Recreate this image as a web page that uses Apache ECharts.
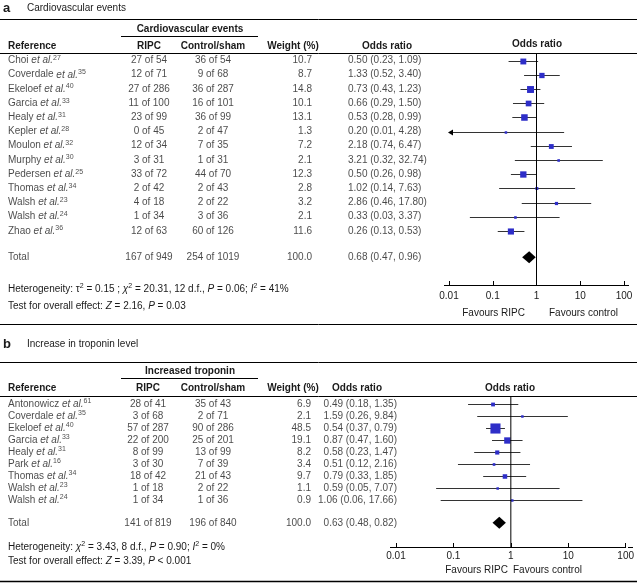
<!DOCTYPE html>
<html><head><meta charset="utf-8">
<script src="https://cdn.jsdelivr.net/npm/echarts@6/dist/echarts.min.js"></script>
<style>html,body{margin:0;padding:0;background:#fff}#c{width:637px;height:584px}</style>
</head><body><div id="c"></div>
<script>
// ---------- Panel a: Cardiovascular events ----------
const aNames = ['Choi','Coverdale','Ekeloef','Garcia','Healy','Kepler','Moulon','Murphy','Pedersen','Thomas','Walsh','Walsh','Zhao'];
const aRefs = ['27','35','40','33','31','28','32','30','25','34','23','24','36'];
const aRipcEvents = [27,12,27,11,23,0,12,3,33,2,4,1,12];
const aRipcN = [54,71,286,100,99,45,34,31,72,42,18,34,63];
const aCtrlEvents = [36,9,36,16,36,2,7,1,44,2,2,3,60];
const aCtrlN = [54,68,287,101,99,47,35,31,70,43,22,36,126];
const aWeight = [10.7,8.7,14.8,10.1,13.1,1.3,7.2,2.1,12.3,2.8,3.2,2.1,11.6];
const aOR = [0.50,1.33,0.73,0.66,0.53,0.20,2.18,3.21,0.50,1.02,2.86,0.33,0.26];
const aLow = [0.23,0.52,0.43,0.29,0.28,0.01,0.74,0.32,0.26,0.14,0.46,0.03,0.13];
const aHigh = [1.09,3.40,1.23,1.50,0.99,4.28,6.47,32.74,0.98,7.63,17.80,3.37,0.53];
const aTotalRipc = [167,949];
const aTotalCtrl = [254,1019];
const aTotalWeight = 100.0;
const aTotalOR = [0.68,0.47,0.96];

// ---------- Panel b: Increase in troponin level ----------
const bNames = ['Antonowicz','Coverdale','Ekeloef','Garcia','Healy','Park','Thomas','Walsh','Walsh'];
const bRefs = ['61','35','40','33','31','16','34','23','24'];
const bRipcEvents = [28,3,57,22,8,3,18,1,1];
const bRipcN = [41,68,287,200,99,30,42,18,34];
const bCtrlEvents = [35,2,90,25,13,7,21,2,1];
const bCtrlN = [43,71,286,201,99,39,43,22,36];
const bWeight = [6.9,2.1,48.5,19.1,8.2,3.4,9.7,1.1,0.9];
const bOR = [0.49,1.59,0.54,0.87,0.58,0.51,0.79,0.59,1.06];
const bLow = [0.18,0.26,0.37,0.47,0.23,0.12,0.33,0.05,0.06];
const bHigh = [1.35,9.84,0.79,1.60,1.47,2.16,1.85,7.07,17.66];
const bTotalRipc = [141,819];
const bTotalCtrl = [196,840];
const bTotalWeight = 100.0;
const bTotalOR = [0.63,0.48,0.82];

const axisTicks = [0.01, 0.1, 1, 10, 100];

const FONT = 'Liberation Sans, Arial, Helvetica, sans-serif';
const TXT = '#1a1a1a';
const SQ = '#2e2ec8';
const CI = '#333333';

const chart = echarts.init(document.getElementById('c'), null, {renderer:'canvas'});

const rich = {
  n: {fontSize: 10, fontFamily: FONT, color: TXT, lineHeight: 12},
  i: {fontSize: 10, fontFamily: FONT, color: TXT, fontStyle: 'italic', lineHeight: 12},
  s: {fontSize: 7, fontFamily: FONT, color: TXT, verticalAlign: 'top', lineHeight: 12, padding:[0,0,0,0]}
};

function fmtCI(o, l, h) { return o.toFixed(2) + ' (' + l.toFixed(2) + ', ' + h.toFixed(2) + ')'; }

function textSeries(xAxisIndex, yAxisIndex, items, align) {
  return {
    type: 'scatter', xAxisIndex, yAxisIndex, symbolSize: 0, silent: true,
    data: items.map(d => ({value: [d.x, d.row], label: {formatter: d.text}})),
    label: {show: true, position: 'inside', align: align, verticalAlign: 'middle', offset: [0,0],
      fontSize: 10, fontFamily: FONT, color: TXT, rich: rich},
    animation: false
  };
}

function panelSeries(P, tx, ty, fx, fy) {
  const rows = P.names.map((_, i) => i);
  const tr = P.totalRow;
  const series = [];
  series.push(textSeries(tx, ty, P.names.map((nm, i) => ({x: P.col.ref, row: i,
    text: '{n|' + nm + ' }{i|et al.}{s|' + P.refs[i] + '}'})).concat([{x: P.col.ref, row: tr, text: 'Total'}]), 'left'));
  series.push(textSeries(tx, ty, rows.map(i => ({x: P.col.ripc, row: i, text: P.ripcE[i] + ' of ' + P.ripcN[i]}))
    .concat([{x: P.col.ripc, row: tr, text: P.totRipc[0] + ' of ' + P.totRipc[1]}]), 'center'));
  series.push(textSeries(tx, ty, rows.map(i => ({x: P.col.ctrl, row: i, text: P.ctrlE[i] + ' of ' + P.ctrlN[i]}))
    .concat([{x: P.col.ctrl, row: tr, text: P.totCtrl[0] + ' of ' + P.totCtrl[1]}]), 'center'));
  series.push(textSeries(tx, ty, rows.map(i => ({x: P.col.w, row: i, text: P.w[i].toFixed(1)}))
    .concat([{x: P.col.w, row: tr, text: P.totW.toFixed(1)}]), 'right'));
  series.push(textSeries(tx, ty, rows.map(i => ({x: P.col.or, row: i, text: fmtCI(P.or[i], P.lo[i], P.hi[i])}))
    .concat([{x: P.col.or, row: tr, text: fmtCI(P.totOR[0], P.totOR[1], P.totOR[2])}]), P.col.orAlign));
  series.push({type: 'line', xAxisIndex: fx, yAxisIndex: fy, symbol: 'none', silent: true, animation: false,
    data: [[1, P.yMin], [1, P.yMax]], lineStyle: {color: '#000', width: 1}});
  series.push({
    type: 'custom', xAxisIndex: fx, yAxisIndex: fy, silent: true, animation: false, clip: false,
    encode: {x: [0,1,2], y: 3},
    data: rows.map(i => [P.or[i], P.lo[i], P.hi[i], i, P.w[i]]),
    renderItem: function (params, api) {
      const o = api.value(0), l = api.value(1), h = api.value(2), r = api.value(3), w = api.value(4);
      const pO = api.coord([o, r]), pL = api.coord([Math.max(l, 0.01), r]), pH = api.coord([h, r]);
      const y = Math.round(pO[1]) + 0.5;
      const s = Math.max(2.5, P.sizeK * Math.sqrt(w));
      const ch = [
        {type: 'line', shape: {x1: pL[0], y1: y, x2: pH[0], y2: y}, style: {stroke: CI, lineWidth: 1}},
        {type: 'rect', shape: {x: pO[0] - s/2, y: y - s/2, width: s, height: s}, style: {fill: SQ}}
      ];
      if (l <= 0.01) ch.push({type: 'polygon', shape: {points: [[pL[0]-1, y], [pL[0]+4, y-3], [pL[0]+4, y+3]]}, style: {fill: '#000'}});
      return {type: 'group', children: ch};
    }
  });
  series.push({
    type: 'custom', xAxisIndex: fx, yAxisIndex: fy, silent: true, animation: false, clip: false,
    encode: {x: [0,1,2], y: 3},
    data: [[P.totOR[0], P.totOR[1], P.totOR[2], tr]],
    renderItem: function (params, api) {
      const o = api.value(0), l = api.value(1), h = api.value(2), r = api.value(3);
      const pO = api.coord([o, r]), pL = api.coord([l, r]), pH = api.coord([h, r]);
      return {type: 'polygon', shape: {points: [[pL[0], pO[1]], [pO[0], pO[1]-6], [pH[0], pO[1]], [pO[0], pO[1]+6]]}, style: {fill: '#000'}};
    }
  });
  return series;
}

const PA = {names: aNames, refs: aRefs, ripcE: aRipcEvents, ripcN: aRipcN, ctrlE: aCtrlEvents, ctrlN: aCtrlN,
  w: aWeight, or: aOR, lo: aLow, hi: aHigh, totRipc: aTotalRipc, totCtrl: aTotalCtrl, totW: aTotalWeight, totOR: aTotalOR,
  totalRow: 13.85, yMin: -0.53, yMax: 15.81, sizeK: 1.8,
  col: {ref: 8, ripc: 149, ctrl: 213, w: 312, or: 348, orAlign: 'left'}};
const PB = {names: bNames, refs: bRefs, ripcE: bRipcEvents, ripcN: bRipcN, ctrlE: bCtrlEvents, ctrlN: bCtrlN,
  w: bWeight, or: bOR, lo: bLow, hi: bHigh, totRipc: bTotalRipc, totCtrl: bTotalCtrl, totW: bTotalWeight, totOR: bTotalOR,
  totalRow: 9.9, yMin: -0.67, yMax: 11.92, sizeK: 1.45,
  col: {ref: 8, ripc: 148, ctrl: 213, w: 311, or: 397, orAlign: 'right'}};

function logAxis(gi, margin) {
  return {type: 'log', logBase: 10, gridIndex: gi, min: 0.01, max: 100, position: 'bottom',
    axisLine: {show: true, onZero: false, lineStyle: {color: '#000', width: 1}},
    axisTick: {show: true, inside: true, length: 4, lineStyle: {color: '#000'}},
    splitLine: {show: false}, minorTick: {show: false},
    axisLabel: {show: true, margin: margin, fontSize: 10, fontFamily: FONT, color: TXT,
      formatter: v => { const t = axisTicks.find(a => Math.abs(Math.log10(a) - Math.log10(v)) < 1e-6); return t === undefined ? '' : String(t); }}};
}
function hiddenX(gi) { return {type: 'value', gridIndex: gi, min: 0, max: 637, show: false}; }
function hiddenY(gi, P) { return {type: 'value', gridIndex: gi, min: P.yMin, max: P.yMax, inverse: true, show: false}; }

function hline(x1, x2, y, w) { return {type: 'line', shape: {x1, y1: y + 0.5, x2, y2: y + 0.5}, style: {stroke: '#000', lineWidth: w || 1}, silent: true}; }
function txt(x, y, text, opts) {
  return {type: 'text', x, y, silent: true, style: Object.assign({text, fontSize: 10, fontFamily: FONT, fill: TXT,
    textAlign: 'left', textVerticalAlign: 'middle', rich: {
      n: {fontSize: 10, fontFamily: FONT, fill: TXT},
      it: {fontSize: 10, fontFamily: FONT, fill: TXT, fontStyle: 'italic'},
      sup: {fontSize: 7, fontFamily: FONT, fill: TXT, verticalAlign: 'top', lineHeight: 12}
    }}, opts || {})};
}
function bold(x, y, text, align) { return txt(x, y, text, {fontWeight: 'bold', textAlign: align || 'center'}); }

const graphics = [
  txt(3, 8, 'a', {fontWeight: 'bold', fontSize: 13}),
  txt(27, 8, 'Cardiovascular events'),
  hline(0, 637, 19),
  bold(190, 29, 'Cardiovascular events'),
  hline(121, 258, 36),
  bold(8, 46, 'Reference', 'left'), bold(149, 46, 'RIPC'), bold(213, 46, 'Control/sham'),
  bold(293, 46, 'Weight (%)'), bold(387, 46, 'Odds ratio'), bold(537, 44, 'Odds ratio'),
  hline(0, 637, 53),
  txt(8, 289, '{n|Heterogeneity: τ}{sup|2}{n| = 0.15 ; }{it|χ}{sup|2}{n| = 20.31, 12 d.f., }{it|P}{n| = 0.06; }{it|I}{sup|2}{n| = 41%}'),
  txt(8, 306, '{n|Test for overall effect: }{it|Z}{n| = 2.16, }{it|P}{n| = 0.03}'),
  hline(444, 449, 285), hline(624, 629, 285),
  txt(525, 313, 'Favours RIPC', {textAlign: 'right'}),
  txt(549, 313, 'Favours control'),
  hline(0, 637, 324),
  txt(3, 344, 'b', {fontWeight: 'bold', fontSize: 13}),
  txt(27, 344, 'Increase in troponin level'),
  hline(0, 637, 362),
  bold(190, 371, 'Increased troponin'),
  hline(121, 258, 378),
  bold(8, 388, 'Reference', 'left'), bold(148, 388, 'RIPC'), bold(213, 388, 'Control/sham'),
  bold(293, 388, 'Weight (%)'), bold(357, 388, 'Odds ratio'), bold(510, 388, 'Odds ratio'),
  hline(0, 637, 396),
  txt(8, 547, '{n|Heterogeneity: }{it|χ}{sup|2}{n| = 3.43, 8 d.f., }{it|P}{n| = 0.90; }{it|I}{sup|2}{n| = 0%}'),
  txt(8, 561, '{n|Test for overall effect: }{it|Z}{n| = 3.39, }{it|P}{n| < 0.001}'),
  hline(390, 396, 547), hline(628, 633, 547),
  txt(508, 570, 'Favours RIPC', {textAlign: 'right'}),
  txt(513, 570, 'Favours control'),
  hline(0, 637, 581, 1.5)
];

const option = {
  animation: false,
  backgroundColor: '#fff',
  grid: [
    {left: 0, top: 53, width: 637, height: 232},
    {left: 449, top: 53, width: 175, height: 232},
    {left: 0, top: 396, width: 637, height: 151},
    {left: 396, top: 396, width: 232, height: 151}
  ],
  xAxis: [hiddenX(0), logAxis(1, 6), hiddenX(2), logAxis(3, 4)],
  yAxis: [hiddenY(0, PA), hiddenY(1, PA), hiddenY(2, PB), hiddenY(3, PB)],
  series: panelSeries(PA, 0, 0, 1, 1).concat(panelSeries(PB, 2, 2, 3, 3)),
  graphic: graphics
};
chart.setOption(option);
</script></body></html>
